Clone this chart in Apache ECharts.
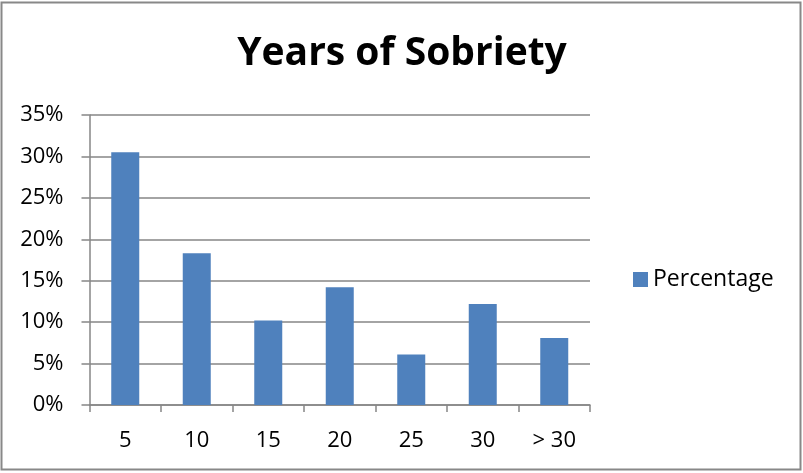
<!DOCTYPE html>
<html><head><meta charset="utf-8">
<script src="https://cdn.jsdelivr.net/npm/echarts@6/dist/echarts.min.js"></script>
<style>html,body{margin:0;padding:0;background:#fff;}#c{width:803px;height:473px;}</style>
</head><body><div id="c"></div>
<script>
const categories = ['5','10','15','20','25','30','> 30'];
const percentage = [30.5, 18.3, 10.2, 14.2, 6.1, 12.2, 8.1];
const yTicks = [0,5,10,15,20,25,30,35];

const chart = echarts.init(document.getElementById('c'));
const font = '"Open Sans", "Noto Sans", sans-serif';
chart.setOption({
  animation: false,
  backgroundColor: '#fff',
  graphic: [{type:'rect', shape:{x:1.5,y:2.5,width:799,height:467}, style:{fill:'none', stroke:'#888', lineWidth:2}, silent:true}],
  title: {text:'Years of Sobriety', left: 397, top: 29, textAlign:'center',
    textStyle:{fontFamily:font, fontWeight:'bold', fontSize:39, color:'#000'}},
  legend: {data:['Percentage'], left: 628, top: 263, itemWidth:15, itemHeight:15, itemGap:6,
    icon:'rect', textStyle:{fontFamily:font, fontSize:23, color:'#000'}},
  grid: {left: 89.5, right: 213, top: 115, bottom: 68},
  xAxis: {type:'category', data: categories,
    axisLine:{lineStyle:{color:'#868686', width:1.5}},
    axisTick:{show:true, length:7, lineStyle:{color:'#868686', width:1.5}},
    axisLabel:{fontFamily:font, fontSize:22, color:'#000', margin:25}},
  yAxis: {type:'value', min:0, max:35, interval:5,
    axisLine:{show:true, lineStyle:{color:'#868686', width:1.5}},
    axisTick:{show:true, length:8, lineStyle:{color:'#868686', width:1.5}},
    splitLine:{lineStyle:{color:'#868686', width:1.5}},
    axisLabel:{fontFamily:font, fontSize:22, color:'#000', margin:26, formatter: v => v + '%'}},
  series: [{name:'Percentage', type:'bar', data: percentage, barWidth: 28,
    itemStyle:{color:'#4f81bd'}}]
});
</script></body></html>
